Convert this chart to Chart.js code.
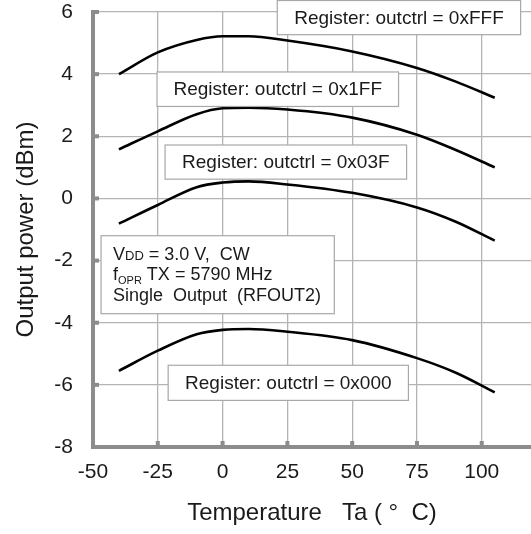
<!DOCTYPE html>
<html>
<head>
<meta charset="utf-8">
<script src="https://cdn.jsdelivr.net/npm/chart.js@4.4.0/dist/chart.umd.min.js"></script>
<style>
  html, body { margin: 0; padding: 0; background: #fff; }
</style>
</head>
<body>
<canvas id="chart" width="531" height="534"></canvas>
<script>
// temperatures (deg C)
const temps = [-40, -25, -10, 0, 10, 25, 50, 75, 90, 105];
const outFFF = [4.0, 4.7, 5.1, 5.22, 5.22, 5.08, 4.73, 4.2, 3.76, 3.24];
const out1FF = [1.58, 2.16, 2.71, 2.9, 2.92, 2.86, 2.6, 2.05, 1.56, 1.0];
const out03F = [-0.81, -0.21, 0.36, 0.51, 0.55, 0.45, 0.18, -0.29, -0.75, -1.36];
const out000 = [-5.55, -4.9, -4.37, -4.23, -4.2, -4.29, -4.56, -5.14, -5.61, -6.24];

const seriesNames = ['0xFFF', '0x1FF', '0x03F', '0x000'];
const xTicks = [-50, -25, 0, 25, 50, 75, 100];
const yTicks = [-8, -6, -4, -2, 0, 2, 4, 6];

const FONT = '"Liberation Sans", Arial, sans-serif';

function toPoints(values) {
    return temps.map((t, i) => ({ x: t, y: values[i] }));
}

const datasets = [outFFF, out1FF, out03F, out000].map((vals, i) => {
    return {
        label: seriesNames[i],
        data: toPoints(vals),
        borderColor: '#000',
        borderWidth: 2.6,
        pointRadius: 0,
        fill: false,
        cubicInterpolationMode: 'monotone'
    };
});

// label boxes, corners given in data units (x1,x2 deg C ; y1 top, y2 bottom in dBm)
const labelBoxes = [
    { x1: 21.1, x2: 115, y1: 6.37, y2: 5.27, lines: ['Register: outctrl = 0xFFF'] },
    { x1: -25.3, x2: 67.9, y1: 4.07, y2: 2.96, lines: ['Register: outctrl = 0x1FF'] },
    { x1: -22.2, x2: 71, y1: 1.72, y2: 0.62, lines: ['Register: outctrl = 0x03F'] },
    { x1: -21, x2: 71.7, y1: -5.37, y2: -6.5, lines: ['Register: outctrl = 0x000'] }
];
const infoBox = { x1: -46.9, x2: 43.1, y1: -1.2, y2: -3.71 };

function drawRuns(ctx, runs, x, y) {
    // runs: [text, size, dy]
    runs.forEach(r => {
        ctx.font = r[1] + 'px ' + FONT;
        ctx.fillText(r[0], x, y + (r[2] || 0));
        x += ctx.measureText(r[0]).width;
    });
}

const boxesPlugin = {
    id: 'boxes',
    beforeDatasetsDraw(chart) {
        const ctx = chart.ctx;
        const xs = chart.scales.x, ys = chart.scales.y;
        const area = chart.chartArea;
        ctx.save();
        ctx.fillStyle = '#8c8c8c';
        yTicks.forEach(v => {
            const py = ys.getPixelForValue(v);
            ctx.fillRect(area.left, py - 2, 6, 4);
        });
        xTicks.forEach(v => {
            const px = xs.getPixelForValue(v);
            ctx.fillRect(px - 2, area.bottom - 6, 4, 6);
        });
        ctx.restore();
    },
    afterDraw(chart) {
        const ctx = chart.ctx;
        const xs = chart.scales.x, ys = chart.scales.y;
        ctx.save();
        labelBoxes.forEach(b => {
            const l = xs.getPixelForValue(b.x1), r = xs.getPixelForValue(b.x2);
            const t = ys.getPixelForValue(b.y1), bt = ys.getPixelForValue(b.y2);
            ctx.fillStyle = '#fff';
            ctx.fillRect(l, t, r - l, bt - t);
            ctx.strokeStyle = '#a8a8a8';
            ctx.lineWidth = 1.2;
            ctx.strokeRect(l, t, r - l, bt - t);
            ctx.fillStyle = '#1a1a1a';
            ctx.font = '19px ' + FONT;
            ctx.textAlign = 'center';
            ctx.textBaseline = 'middle';
            ctx.fillText(b.lines[0], (l + r) / 2, (t + bt) / 2 + 1);
        });

        const l = xs.getPixelForValue(infoBox.x1), r = xs.getPixelForValue(infoBox.x2);
        const t = ys.getPixelForValue(infoBox.y1), bt = ys.getPixelForValue(infoBox.y2);
        ctx.fillStyle = '#fff';
        ctx.fillRect(l, t, r - l, bt - t);
        ctx.strokeStyle = '#a8a8a8';
        ctx.lineWidth = 1.2;
        ctx.strokeRect(l, t, r - l, bt - t);
        ctx.fillStyle = '#1a1a1a';
        ctx.textAlign = 'left';
        ctx.textBaseline = 'alphabetic';
        const tx = l + 12;
        drawRuns(ctx, [['V', 18], ['DD', 13], [' = 3.0 V,  CW', 18]], tx, t + 24);
        drawRuns(ctx, [['f', 18], ['OPR', 11, 4], [' TX = 5790 MHz', 18]], tx, t + 44);
        drawRuns(ctx, [['Single  Output  (RFOUT2)', 18]], tx, t + 65);
        ctx.restore();
    }
};

const ctx = document.getElementById('chart').getContext('2d');
new Chart(ctx, {
    type: 'line',
    data: { datasets: datasets },
    options: {
        responsive: false,
        animation: false,
        layout: { padding: { top: 12, right: 0, left: 0, bottom: 0 } },
        plugins: {
            legend: { display: false },
            tooltip: { enabled: false }
        },
        scales: {
            x: {
                type: 'linear',
                min: -50,
                max: 119,
                afterBuildTicks: scale => {
                    scale.ticks = xTicks.map(v => ({ value: v }));
                },
                afterFit: scale => {
                    scale.height = 87;
                    scale.paddingLeft = 0;
                    scale.paddingRight = 0;
                },
                ticks: {
                    padding: 13,
                    color: '#1a1a1a',
                    font: { family: FONT, size: 21 },
                    maxRotation: 0
                },
                grid: { color: '#b4b4b4', lineWidth: 1.3, drawTicks: false },
                border: { color: '#8c8c8c', width: 4 },
                title: {
                    display: true,
                    text: 'Temperature   Ta ( \u00b0  C)',
                    color: '#1a1a1a',
                    font: { family: FONT, size: 24 },
                    padding: { top: 12, bottom: 6 }
                }
            },
            y: {
                type: 'linear',
                min: -8,
                max: 6,
                afterBuildTicks: scale => {
                    scale.ticks = yTicks.map(v => ({ value: v }));
                },
                afterFit: scale => {
                    scale.width = 93;
                    scale.paddingTop = 0;
                    scale.paddingBottom = 0;
                },
                ticks: {
                    padding: 20,
                    color: '#1a1a1a',
                    font: { family: FONT, size: 21 }
                },
                grid: { color: '#b4b4b4', lineWidth: 1.3, drawTicks: false },
                border: { color: '#8c8c8c', width: 4 },
                title: {
                    display: true,
                    text: 'Output power (dBm)',
                    color: '#1a1a1a',
                    font: { family: FONT, size: 24 },
                    padding: { top: 12, bottom: 0 }
                }
            }
        }
    },
    plugins: [boxesPlugin]
});
</script>
</body>
</html>
